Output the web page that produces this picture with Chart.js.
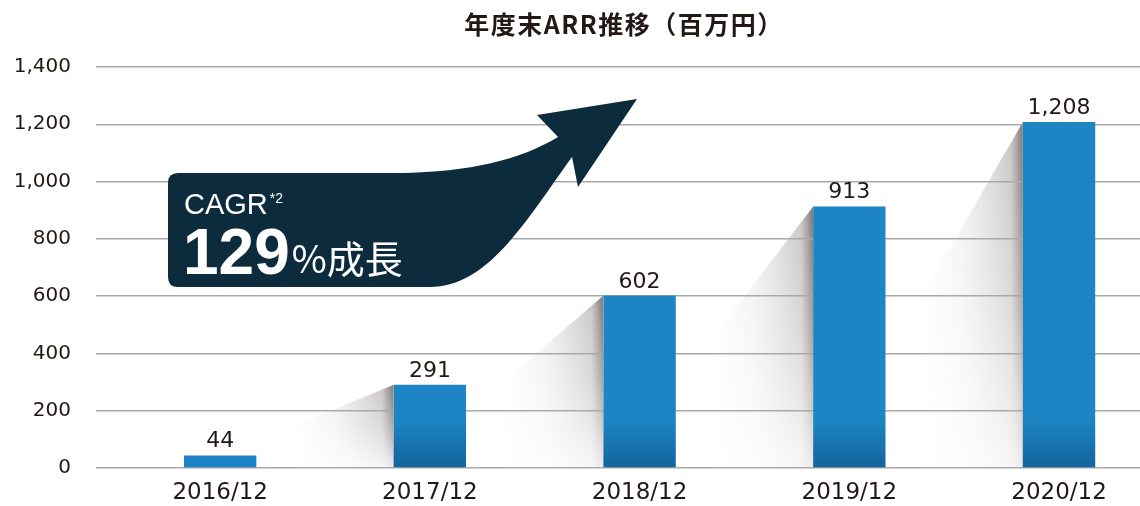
<!DOCTYPE html>
<html lang="ja">
<head>
  <meta charset="UTF-8" />
  <title>年度末ARR推移</title>
  <script src="https://cdn.jsdelivr.net/npm/chart.js"></script>
  <style>
    html, body { margin: 0; padding: 0; background: #fff; }
    .wrap { position: relative; width: 1140px; height: 506px; }
    .title { position: absolute; top: 8px; left: 0; width: 1248px; text-align: center;
      font-family: 'Noto Sans CJK JP', sans-serif; font-weight: 700; font-size: 25px;
      letter-spacing: 1.5px; color: #231815; line-height: 30px; }
    canvas { position: absolute; left: 0; top: 0; }
  </style>
</head>
<body>
  <div class="wrap">
    <canvas id="arrChart" width="1140" height="506"></canvas>
    <div class="title">年度末ARR推移（百万円）</div>
  </div>

  <script>
    // data
    const years = ['2016/12', '2017/12', '2018/12', '2019/12', '2020/12'];
    const arrValues = [44, 291, 602, 913, 1208];
    const yMin = 0, yMax = 1400, yStep = 200;
    const cagrLabel = 'CAGR';
    const cagrNote = '*2';
    const cagrValue = '129';
    const cagrUnit = '%成長';

    const ink = '#231815';
    const numFont = "'DejaVu Sans', sans-serif";

    // soft diagonal shadow to the left of each bar, drawn under the grid
    const shadowPlugin = {
      id: 'barShadow',
      beforeDraw(chart) {
        const ctx = chart.ctx;
        const base = chart.scales.y.getPixelForValue(0);
        chart.getDatasetMeta(0).data.forEach((bar, i) => {
          if (i === 0) return;
          const xl = bar.x - bar.width / 2;
          const yt = bar.y;
          const far = xl - 100;
          const mid = (yt + base) / 2;
          ctx.save();
          ctx.beginPath();
          ctx.moveTo(xl, yt);
          ctx.lineTo(far, mid);
          ctx.lineTo(far, base);
          ctx.lineTo(xl, base);
          ctx.closePath();
          ctx.clip();
          const g = ctx.createLinearGradient(xl, 0, far, 0);
          g.addColorStop(0, 'rgba(70,55,55,0.7)');
          g.addColorStop(0.12, 'rgba(100,90,90,0.35)');
          g.addColorStop(0.6, 'rgba(140,140,140,0.12)');
          g.addColorStop(1, 'rgba(160,160,160,0)');
          ctx.fillStyle = g;
          ctx.fillRect(far, yt, xl - far, base - yt);
          ctx.globalCompositeOperation = 'destination-out';
          const v = ctx.createLinearGradient(0, yt, 0, base);
          v.addColorStop(0, 'rgba(0,0,0,0)');
          v.addColorStop(0.5, 'rgba(0,0,0,0.35)');
          v.addColorStop(1, 'rgba(0,0,0,0.85)');
          ctx.fillStyle = v;
          ctx.fillRect(far, yt, xl - far, base - yt);
          ctx.restore();
        });
      }
    };

    // value labels above the bars
    const valuePlugin = {
      id: 'valueLabels',
      afterDatasetsDraw(chart) {
        const ctx = chart.ctx;
        ctx.save();
        ctx.font = '22px ' + numFont;
        ctx.fillStyle = ink;
        ctx.textAlign = 'center';
        ctx.textBaseline = 'alphabetic';
        chart.getDatasetMeta(0).data.forEach((bar, i) => {
          ctx.fillText(arrValues[i].toLocaleString('en-US'), bar.x, bar.y - 8);
        });
        ctx.restore();
      }
    };

    // the big CAGR arrow
    const arrowPlugin = {
      id: 'cagrArrow',
      afterDraw(chart) {
        const ctx = chart.ctx;
        ctx.save();
        ctx.fillStyle = '#0c2b3d';
        ctx.beginPath();
        ctx.moveTo(178, 173);
        ctx.lineTo(400, 173);
        ctx.bezierCurveTo(470, 172, 520, 160, 558, 137);
        ctx.lineTo(537, 115);
        ctx.lineTo(637, 99);
        ctx.lineTo(578, 187);
        ctx.lineTo(572, 157);
        ctx.bezierCurveTo(525, 222, 488, 287, 430, 287);
        ctx.lineTo(178, 287);
        ctx.quadraticCurveTo(168, 287, 168, 277);
        ctx.lineTo(168, 183);
        ctx.quadraticCurveTo(168, 173, 178, 173);
        ctx.closePath();
        ctx.fill();

        ctx.fillStyle = '#fff';
        ctx.textBaseline = 'alphabetic';
        ctx.textAlign = 'left';
        ctx.font = "29px 'Liberation Sans', sans-serif";
        ctx.fillText(cagrLabel, 184, 214);
        const w = ctx.measureText(cagrLabel).width;
        ctx.font = "14px 'Liberation Sans', sans-serif";
        ctx.fillText(cagrNote, 184 + w + 2, 203);
        ctx.font = "bold 64px 'Liberation Sans', sans-serif";
        ctx.fillText(cagrValue, 183, 274);
        const w2 = ctx.measureText(cagrValue).width;
        ctx.font = "38px 'Noto Sans CJK JP', sans-serif";
        ctx.fillText(cagrUnit, 183 + w2 + 2, 273);
        ctx.restore();
      }
    };

    const barColor = (c) => {
      const area = c.chart.chartArea;
      if (!area || c.dataIndex === 0) return '#1c84c4';
      const g = c.chart.ctx.createLinearGradient(0, area.bottom - 48, 0, area.bottom);
      g.addColorStop(0, '#1d85c4');
      g.addColorStop(1, '#12649b');
      return g;
    };

    new Chart(document.getElementById('arrChart'), {
      type: 'bar',
      data: {
        datasets: [{
          data: arrValues.map((v, i) => ({ x: i, y: v })),
          backgroundColor: barColor,
          borderWidth: 0,
          categoryPercentage: 1,
          barPercentage: 0.345
        }]
      },
      options: {
        responsive: false,
        animation: false,
        layout: { padding: { top: 67, left: 12, right: 0, bottom: 0 } },
        plugins: {
          legend: { display: false },
          title: { display: false },
          tooltip: { enabled: false }
        },
        scales: {
          x: {
            type: 'linear',
            offset: false,
            min: -0.592,
            max: 4.386,
            afterBuildTicks: (s) => { s.ticks = years.map((_, i) => ({ value: i })); },
            afterFit: (s) => { s.height = 38; },
            grid: { display: false, offset: false, drawTicks: false },
            border: { display: false },
            ticks: {
              padding: 11,
              color: ink,
              font: { size: 23, family: numFont },
              callback: (v) => years[v]
            }
          },
          y: {
            min: yMin,
            max: yMax,
            afterFit: (s) => { s.width = 84; },
            border: { display: false },
            grid: { color: '#a9a9a9', lineWidth: 1.5, drawTicks: false },
            ticks: {
              stepSize: yStep,
              padding: 25,
              color: ink,
              font: { size: 20, family: numFont },
              callback: (v) => v.toLocaleString('en-US')
            }
          }
        }
      },
      plugins: [shadowPlugin, valuePlugin, arrowPlugin]
    });
  </script>
</body>
</html>
